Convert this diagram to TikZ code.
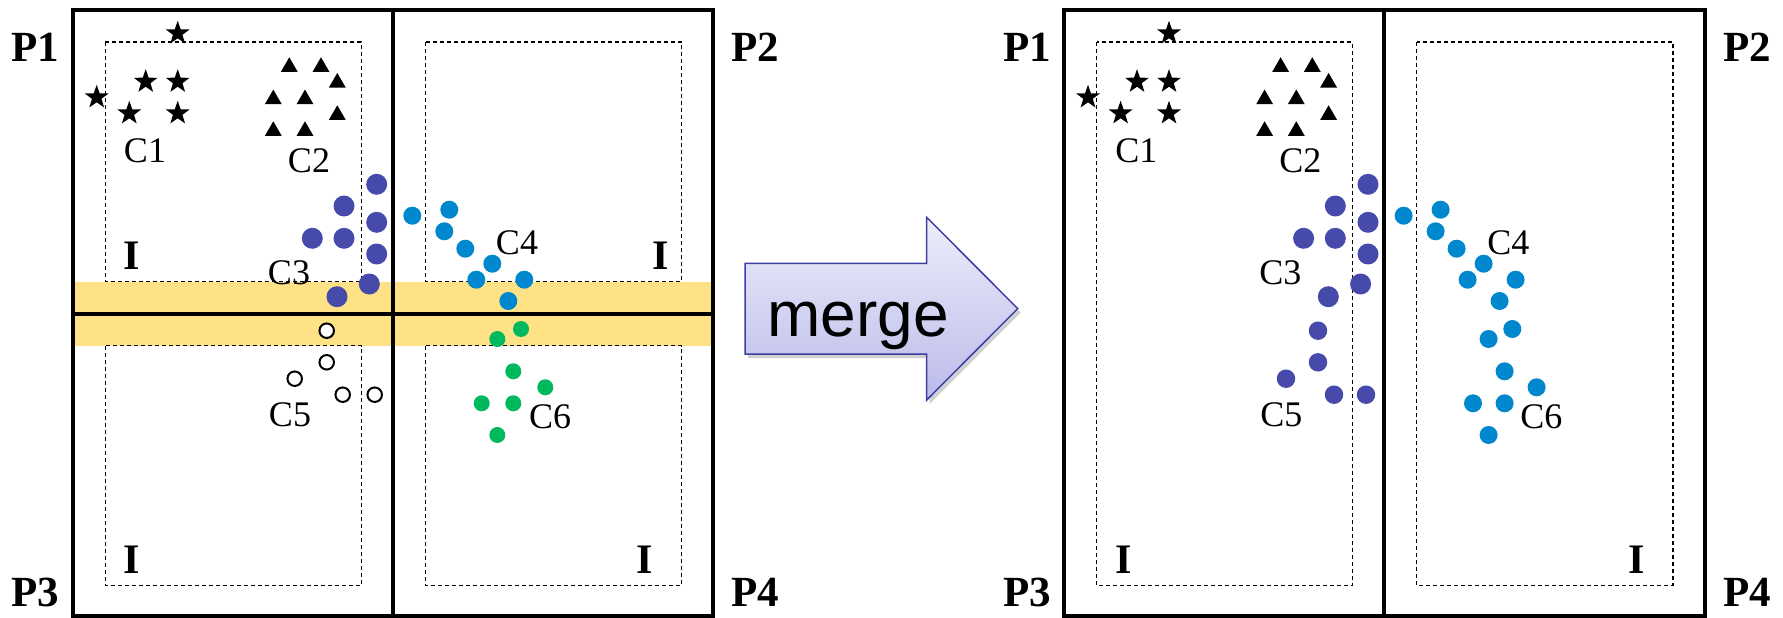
\documentclass[tikz,border=0pt]{standalone}
\usepackage{fontspec}
\setmainfont{Liberation Serif}
\newfontfamily\arrowfont{Liberation Sans}
\usetikzlibrary{shapes.geometric}

\definecolor{clusterA}{RGB}{70,74,170}
\definecolor{clusterB}{RGB}{0,136,206}
\definecolor{clusterC}{RGB}{0,185,95}
\definecolor{border}{RGB}{255,226,133}
\definecolor{arrowtop}{RGB}{238,238,251}
\definecolor{arrowbot}{RGB}{186,186,234}
\definecolor{arrowline}{RGB}{62,62,165}

% points of the six clusters, shared by both panels
\newcommand\clusterpoints{%
  \foreach \px/\py [count=\k] in {177.7/33.3,145.7/81.7,177.7/81.7,96.7/97.3,129.3/113.3,177.7/113.3}
    \node[starpt] (s\k) at (\px,\py) {};
  \foreach \px/\py [count=\k] in {289.3/67,321/67,337.3/82.7,273.3/99.3,305/99.3,337.3/115,273.3/131,305/131}
    \node[tript] (t\k) at (\px,\py) {};
  \foreach \px/\py [count=\k] in {376.7/184.3,344/206,376.7/222.3,312.3/238.3,344/238.3,376.7/254,369.3/284,337/296.7}
    \node[dotthree] (a\k) at (\px,\py) {};
  \foreach \px/\py [count=\k] in {412.3/215.7,449.3/209.7,444.3/231.3,465.3/248.7,492.3/263.7,476.3/279.7,524.3/279.7,508.3/301}
    \node[dotfour] (b\k) at (\px,\py) {};
  \foreach \px/\py [count=\k] in {326.7/330.7,326.7/362.3,294.7/378.7,342.7/394.7,374.7/394.7}
    \node[dotfive] (c\k) at (\px,\py) {};
  \foreach \px/\py [count=\k] in {521/329,497.3/339,513.3/371.3,545.3/387.3,481.7/403.3,513.3/403.3,497.3/435}
    \node[dotsix] (d\k) at (\px,\py) {};
  \node[clabel] (C1) at (145,151) {C1};
  \node[clabel] (C2) at (309,161) {C2};
  \node[clabel] (C3) at (289,273) {C3};
  \node[clabel] (C4) at (517,243) {C4};
  \node[clabel] (C5) at (290,415) {C5};
  \node[clabel] (C6) at (550,417) {C6};
}

\begin{document}
\begin{tikzpicture}[x=1pt,y=-1pt,
  frame/.style={line width=4pt},
  guide/.style={line width=1.2pt, dash pattern=on 4pt off 3pt},
  plabel/.style={font=\fontsize{43}{43}\selectfont\bfseries, inner sep=0pt},
  ilabel/.style={font=\fontsize{42}{42}\selectfont\bfseries, inner sep=0pt},
  clabel/.style={font=\fontsize{36}{36}\selectfont, inner sep=0pt},
  starpt/.style={star, star points=5, star point ratio=2.5, fill=black, inner sep=0pt, minimum size=25pt},
  tript/.style={regular polygon, regular polygon sides=3, fill=black, inner sep=0pt, minimum size=19.5pt},
  dotthree/.style={circle, fill=clusterA, inner sep=0pt, minimum size=21pt},
  dotfour/.style={circle, fill=clusterB, inner sep=0pt, minimum size=18pt}]

\useasboundingbox (0,0) rectangle (1783,618);

% ---------- left panel: four partitions with border band ----------
\begin{scope}[name prefix=L-,
    dotfive/.style={circle, draw=black, line width=2pt, fill=white, inner sep=0pt, minimum size=14.5pt},
    dotsix/.style={circle, fill=clusterC, inner sep=0pt, minimum size=16pt}]
  \fill[border] (72.7,282.3) rectangle (713.3,345.7);
  \draw[guide] (105.3,42) rectangle (361.3,281.5);
  \draw[guide] (425.3,42) rectangle (681.7,281.5);
  \draw[guide] (105.3,345.7) rectangle (361.3,585.3);
  \draw[guide] (425.3,345.7) rectangle (681.7,585.3);
  \draw[frame] (72.7,10) rectangle (713.3,615.5);
  \draw[frame] (393,10) -- (393,615.5);
  \draw[frame] (72.7,313.5) -- (713.3,313.5);
  \node[ilabel] (I1) at (132,256) {I};
  \node[ilabel] (I2) at (661,256) {I};
  \node[ilabel] (I3) at (132,560) {I};
  \node[ilabel] (I4) at (645,560) {I};
  \clusterpoints
  \node[plabel] (P1) at (35,47) {P1};
  \node[plabel] (P2) at (755.6,47) {P2};
  \node[plabel] (P3) at (35,592) {P3};
  \node[plabel] (P4) at (755.6,592) {P4};
\end{scope}

% ---------- merge arrow ----------
\fill[black, opacity=0.18] (748,267.3) -- (929.7,267.3) -- (929.7,221.3) -- (1020.7,312.6)
  -- (929.7,404) -- (929.7,358) -- (748,358) -- cycle;
\shade[top color=arrowtop, bottom color=arrowbot, draw=arrowline, line width=1.5pt, line join=miter]
  (745,263.3) -- (926.7,263.3) -- (926.7,217.3) -- (1017.7,308.6)
  -- (926.7,400) -- (926.7,354) -- (745,354) -- cycle;
\node[font=\arrowfont\fontsize{64}{64}\selectfont, anchor=base, inner sep=0pt] (merge) at (858,336.7) {merge};

% ---------- right panel: merged partitions ----------
\begin{scope}[xshift=991.3pt, name prefix=R-,
    dotfive/.style={circle, fill=clusterA, inner sep=0pt, minimum size=18.5pt},
    dotsix/.style={circle, fill=clusterB, inner sep=0pt, minimum size=18pt}]
  \draw[guide] (105.3,42) rectangle (361.3,585.3);
  \draw[guide] (425.3,42) rectangle (681.7,585.3);
  \draw[frame] (72.7,10) rectangle (713.3,615.5);
  \draw[frame] (393,10) -- (393,615.5);
  \node[ilabel] (I3) at (132,560) {I};
  \node[ilabel] (I4) at (645,560) {I};
  \clusterpoints
  \node[plabel] (P1) at (35.7,47) {P1};
  \node[plabel] (P2) at (755.6,47) {P2};
  \node[plabel] (P3) at (35.7,592) {P3};
  \node[plabel] (P4) at (755.6,592) {P4};
\end{scope}
\end{tikzpicture}
\end{document}
